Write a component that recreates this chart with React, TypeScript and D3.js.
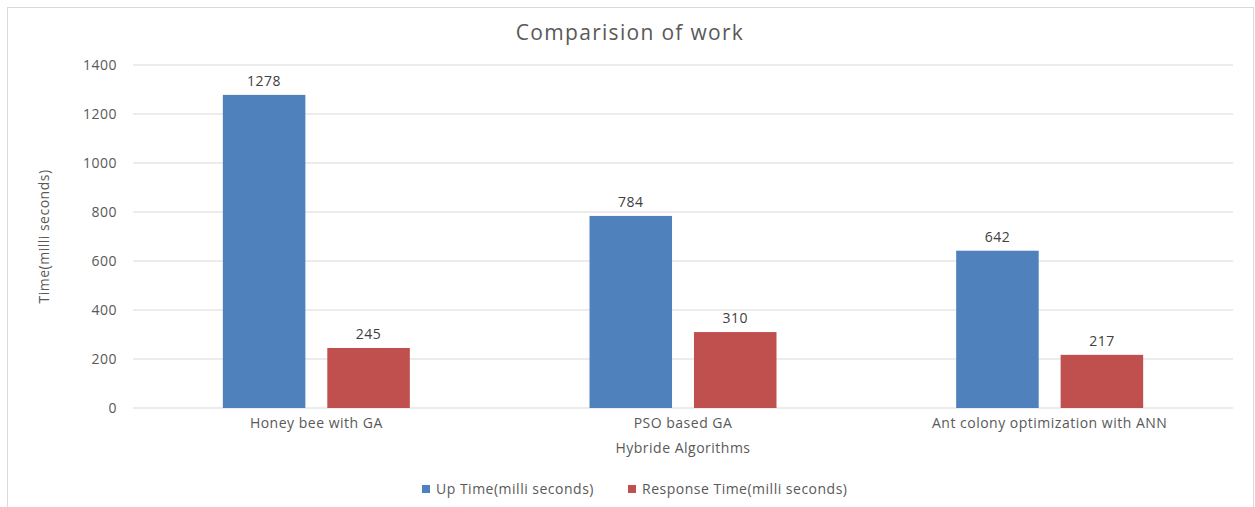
import React from 'react';
import * as d3 from 'd3';

const categories = ['Honey bee with GA', 'PSO based GA', 'Ant colony optimization with ANN'];
const seriesNames = ['Up Time(milli seconds)', 'Response Time(milli seconds)'];
const upTime = [1278, 784, 642];
const responseTime = [245, 310, 217];
const yTicks = [0, 200, 400, 600, 800, 1000, 1200, 1400];
const colors = ['#4F81BD', '#C0504D'];

const W = 1255;
const H = 507;
const margin = { left: 133, right: 22, top: 65, bottom: 99 };
const font = '"Open Sans", "Noto Sans", sans-serif';
const textColor = '#595959';
const fs = 14;
const ls = 0.5;

export default function App() {
  const x0 = d3.scaleBand<string>()
    .domain(categories)
    .range([margin.left, W - margin.right])
    .paddingInner(0.49)
    .paddingOuter(0.245);
  const x1 = d3.scaleBand<string>()
    .domain(seriesNames)
    .range([0, x0.bandwidth()])
    .paddingInner(0.21);
  const y = d3.scaleLinear().domain([0, 1400]).range([H - margin.bottom, margin.top]);
  const values = [upTime, responseTime];
  const plotCenter = (margin.left + W - margin.right) / 2;

  return (
    <svg width={W} height={H} style={{ position: 'absolute', left: 0, top: 0, fontFamily: font, letterSpacing: ls }}>
      <rect x={7.5} y={7.5} width={W - 9} height={H} fill="#fff" stroke="#d9d9d9" />
      <text x={630} y={40} textAnchor="middle" fontSize={21} letterSpacing={1.3} fill={textColor}>Comparision of work</text>
      {yTicks.map(t => (
        <g key={t}>
          <line x1={margin.left} x2={W - margin.right} y1={y(t)} y2={y(t)} stroke="#d9d9d9" strokeWidth={1} />
          <text x={117} y={y(t)} dy="0.35em" textAnchor="end" fontSize={fs} fill={textColor}>{t}</text>
        </g>
      ))}
      {categories.map((c, i) => (
        <g key={c}>
          {seriesNames.map((s, j) => {
            const v = values[j][i];
            const bx = (x0(c) ?? 0) + (x1(s) ?? 0);
            return (
              <g key={s}>
                <rect x={bx} y={y(v)} width={x1.bandwidth()} height={y(0) - y(v)} fill={colors[j]} />
                <text x={bx + x1.bandwidth() / 2} y={y(v) - 9} textAnchor="middle" fontSize={fs} fill="#404040">{v}</text>
              </g>
            );
          })}
          <text x={(x0(c) ?? 0) + x0.bandwidth() / 2} y={428} textAnchor="middle" fontSize={fs} fill={textColor}>{c}</text>
        </g>
      ))}
      <text x={plotCenter} y={453} textAnchor="middle" fontSize={fs} fill={textColor}>Hybride Algorithms</text>
      <text transform={`translate(49,${(y(0) + y(1400)) / 2}) rotate(-90)`} textAnchor="middle" fontSize={fs} fill={textColor}>Time(milli seconds)</text>
      {seriesNames.map((s, j) => {
        const lx = j === 0 ? 422 : 628;
        return (
          <g key={s}>
            <rect x={lx} y={485} width={8} height={8} fill={colors[j]} />
            <text x={lx + 14} y={494} fontSize={fs} fill={textColor}>{s}</text>
          </g>
        );
      })}
    </svg>
  );
}
